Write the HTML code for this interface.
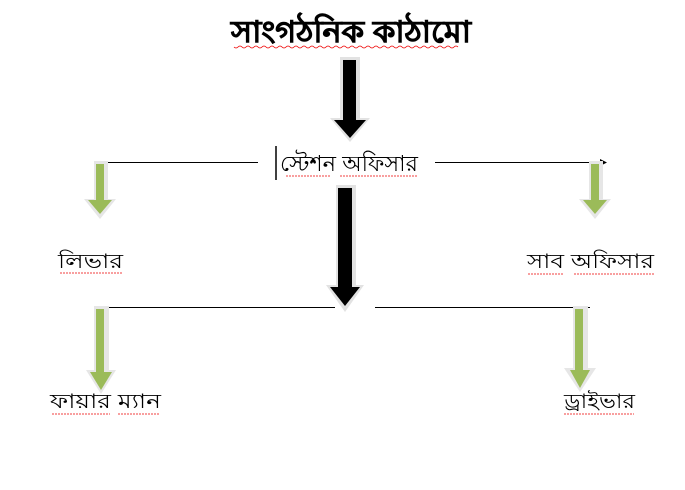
<!DOCTYPE html>
<html><head><meta charset="utf-8"><style>
html,body{margin:0;padding:0;background:#fff;width:685px;height:490px;overflow:hidden}
text{font-family:"Liberation Sans","Noto Sans CJK SC",sans-serif;fill:#000}
</style></head><body>
<svg width="685" height="490" viewBox="0 0 685 490" xmlns="http://www.w3.org/2000/svg">
<!-- title -->
<text x="231" y="42" font-size="30" font-weight="bold" stroke="#000" stroke-width="0.6" textLength="240" lengthAdjust="spacingAndGlyphs">সাংগঠনিক কাঠামো</text>
<path d="M234 47 q2 2 4 0 t4 0 t4 0 t4 0 t4 0 t4 0 t4 0 t4 0 t4 0 t4 0 t4 0 t4 0 t4 0 t4 0 t4 0 t4 0 t4 0 t4 0 t4 0 t4 0 t4 0 t4 0 t4 0 t4 0 t4 0 t4 0 t4 0 t4 0 t4 0 t4 0 t4 0 t4 0 t4 0 t4 0 t4 0 t4 0 t4 0 t4 0 t4 0 t4 0 t4 0 t4 0 t4 0 t4 0 t4 0 t4 0 t4 0 t4 0 t4 0 t4 0 t4 0 t4 0 t4 0 t4 0 t4 0 t4 0" stroke="#e00" stroke-width="0.8" fill="none"/>

<!-- black arrow 1 -->
<polygon points="340,57 360,57 360,118 370,118 350,142 330,118 340,118" fill="#e2e2e2"/>
<polygon points="343,60 356,60 356,120 366,120 350,138 334,120 343,120" fill="#000"/>
<!-- black arrow 2 -->
<polygon points="336,185 356,185 356,285 364,285 345,312 326,285 336,285" fill="#e2e2e2"/>
<polygon points="338,188 352,188 352,287 360,287 345,306 330,287 338,287" fill="#000"/>

<!-- station officer -->
<line x1="276" y1="146" x2="276" y2="180" stroke="#000" stroke-width="1.5"/>
<text x="280" y="171" font-size="22" textLength="138" lengthAdjust="spacingAndGlyphs">স্টেশন অফিসার</text>

<!-- connectors -->
<line x1="98" y1="162.5" x2="258" y2="162.5" stroke="#000" stroke-width="1"/>
<line x1="435" y1="162.5" x2="600" y2="162.5" stroke="#000" stroke-width="1"/>
<polygon points="600,159 607,162.5 600,166" fill="#000"/>
<line x1="98" y1="307.5" x2="335" y2="307.5" stroke="#000" stroke-width="1"/>
<line x1="375" y1="307.5" x2="590" y2="307.5" stroke="#000" stroke-width="1"/>

<!-- green arrows -->
<polygon points="94,161 108,161 108,199 116,199 100,219 84,199 94,199" fill="#e6e6e6"/>
<polygon points="96,164 104,164 104,200 112,200 100,214 88,200 96,200" fill="#9bbb59"/>
<polygon points="589,161 603,161 603,199 611,199 595,219 579,199 589,199" fill="#e6e6e6"/>
<polygon points="591,164 599,164 599,200 607,200 595,214 583,200 591,200" fill="#9bbb59"/>
<polygon points="94,306 109,306 109,370 116,370 101,394 86,370 94,370" fill="#e6e6e6"/>
<polygon points="96,309 104,309 104,372 112,372 101,390 90,372 96,372" fill="#9bbb59"/>
<polygon points="573,306 588,306 588,368 596,368 580,392 564,368 573,368" fill="#e6e6e6"/>
<polygon points="575,309 583,309 583,370 590,370 580,388 570,370 575,370" fill="#9bbb59"/>

<!-- labels -->
<text x="58" y="268" font-size="20" textLength="65" lengthAdjust="spacingAndGlyphs">লিভার</text>
<text x="527" y="268" font-size="20" textLength="127" lengthAdjust="spacingAndGlyphs">সাব অফিসার</text>
<text x="50" y="408" font-size="20" textLength="111" lengthAdjust="spacingAndGlyphs">ফায়ার ম্যান</text>
<text x="564" y="408" font-size="20" textLength="71" lengthAdjust="spacingAndGlyphs">ড্রাইভার</text>

<!-- spell-check squiggles -->
<g stroke="#e00" stroke-width="0.8" fill="none">
<line x1="286" y1="176" x2="330" y2="176" stroke-dasharray="2 1"/>
<line x1="340" y1="176" x2="417" y2="176" stroke-dasharray="2 1"/>
<line x1="60" y1="273" x2="122" y2="273" stroke-dasharray="2 1"/>
<line x1="528" y1="274" x2="563" y2="274" stroke-dasharray="2 1"/>
<line x1="574" y1="274" x2="654" y2="274" stroke-dasharray="2 1"/>
<line x1="52" y1="414" x2="110" y2="414" stroke-dasharray="2 1"/>
<line x1="118" y1="414" x2="160" y2="414" stroke-dasharray="2 1"/>
<line x1="564" y1="414" x2="634" y2="414" stroke-dasharray="2 1"/>
</g>
</svg>
</body></html>
